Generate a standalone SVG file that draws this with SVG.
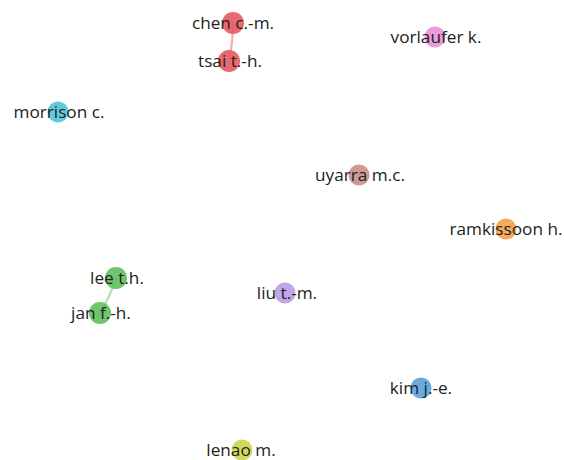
<svg xmlns="http://www.w3.org/2000/svg" width="564" height="460" viewBox="0 0 564 460">
<style>
text{font-family:"Open Sans","Noto Sans","Liberation Sans",sans-serif;font-size:17.2px;fill:#222222;text-anchor:middle;dominant-baseline:central}
circle{stroke:none}
.e{fill:none;stroke-width:2.2;stroke-linecap:round}
</style>
<rect width="564" height="460" fill="#ffffff"/>
<g id="connectors">
<path class="e" d="M233,23 Q233,42 229,61" stroke="#f6adb0"/>
<path class="e" d="M116,278 Q110,297 100,313" stroke="#b3e0ae"/>
</g>
<g id="chen"><circle cx="233" cy="23" r="11" fill="#e8585f" fill-opacity="0.9"/><text x="233" y="22">chen c.-m.</text></g>
<g id="tsai"><circle cx="229" cy="61" r="11" fill="#e8585f" fill-opacity="0.9"/><text x="230" y="60">tsai t.-h.</text></g>
<g id="vorlaufer"><circle cx="435" cy="37" r="10.5" fill="#e592d6" fill-opacity="0.9"/><text x="436" y="36">vorlaufer k.</text></g>
<g id="morrison"><circle cx="58" cy="112" r="10.5" fill="#4cc6d8" fill-opacity="0.9"/><text x="59" y="111">morrison c.</text></g>
<g id="uyarra"><circle cx="359" cy="175" r="10.5" fill="#c99087" fill-opacity="0.9"/><text x="360" y="174">uyarra m.c.</text></g>
<g id="ramkissoon"><circle cx="506" cy="229" r="10.5" fill="#f5a14c" fill-opacity="0.9"/><text x="506" y="228">ramkissoon h.</text></g>
<g id="lee"><circle cx="116" cy="278" r="11" fill="#5fc05f" fill-opacity="0.9"/><text x="117" y="277">lee t.h.</text></g>
<g id="jan"><circle cx="100" cy="313" r="11" fill="#5fc05f" fill-opacity="0.9"/><text x="101" y="312">jan f.-h.</text></g>
<g id="liu"><circle cx="285" cy="293" r="10.5" fill="#bb9ae6" fill-opacity="0.9"/><text x="287" y="292">liu t.-m.</text></g>
<g id="kim"><circle cx="421" cy="388" r="10.5" fill="#5aa2dc" fill-opacity="0.9"/><text x="421" y="387">kim j.-e.</text></g>
<g id="lenao"><circle cx="242" cy="450" r="10.5" fill="#cdd64c" fill-opacity="0.9"/><text x="241" y="449">lenao m.</text></g>
</svg>
